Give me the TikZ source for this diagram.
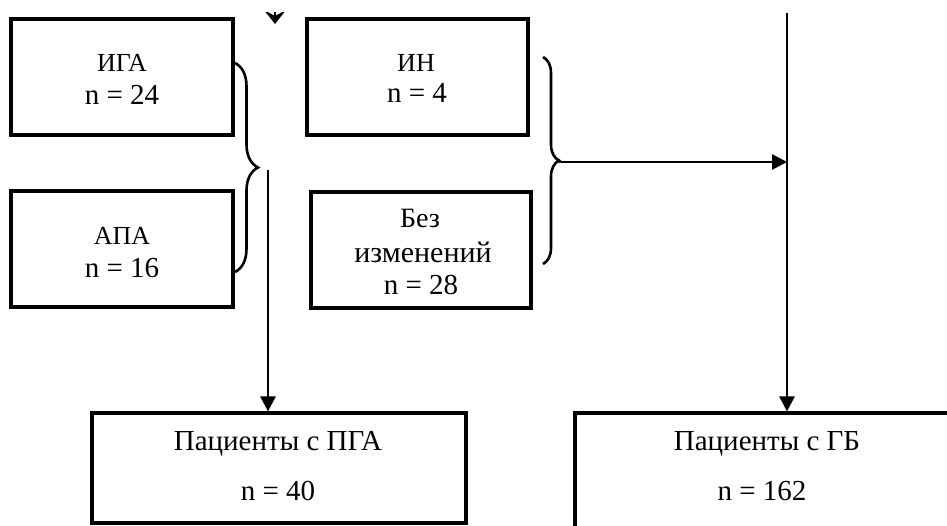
\documentclass[tikz,border=0pt]{standalone}
\usepackage{fontspec}
\setmainfont{Liberation Serif}
\usetikzlibrary{arrows.meta,decorations.pathreplacing}
\begin{document}
\begin{tikzpicture}[x=1pt,y=-1pt,
  box/.style={draw,line width=3.2pt,inner sep=0pt,minimum width=#1},
  lbl/.style={anchor=base,inner sep=0pt},
  conn/.style={line width=2.8pt,-{Triangle[length=15pt,width=15pt]}},
  curly/.style={line width=2.6pt,decorate,decoration={brace,amplitude=#1}},
]
\useasboundingbox (0,0) rectangle (947,526);
\clip (0,0) rectangle (947,526);

% boxes
\node[box=222pt,minimum height=116pt] (iga) at (122,77) {};
\node[box=222pt,minimum height=116pt] (apa) at (122,249) {};
\node[box=221pt,minimum height=116pt] (in) at (417.5,77) {};
\node[box=220pt,minimum height=116pt] (bez) at (421,250) {};
\node[box=374pt,minimum height=110pt] (pga) at (279,468) {};
\node[box=425pt,minimum height=147pt] (gb) at (787.5,486.5) {};

% texts
\node[lbl,font=\fontsize{26}{30}\selectfont] (igaT) at (122,72) {ИГА};
\node[lbl,font=\fontsize{29}{34}\selectfont] (igaN) at (122,105) {n = 24};
\node[lbl,font=\fontsize{26}{30}\selectfont] (apaT) at (122,245) {АПА};
\node[lbl,font=\fontsize{29}{34}\selectfont] (apaN) at (122,278) {n = 16};
\node[lbl,font=\fontsize{26}{30}\selectfont] (inT) at (416,72) {ИН};
\node[lbl,font=\fontsize{29}{34}\selectfont] (inN) at (417,103) {n = 4};
\begin{scope}
  \clip (300,209) rectangle (540,240);
  \node[lbl,font=\fontsize{28}{34}\selectfont] (bezT) at (420,228) {Без};
\end{scope}
\node[lbl,font=\fontsize{30}{34}\selectfont] (bezT2) at (423,263) {изменений};
\node[lbl,font=\fontsize{29}{34}\selectfont] (bezN) at (421,295) {n = 28};
\node[lbl,font=\fontsize{29}{34}\selectfont] (pgaT) at (278,450) {Пациенты с ПГА};
\node[lbl,font=\fontsize{29}{34}\selectfont] (pgaN) at (278,500) {n = 40};
\node[lbl,font=\fontsize{29}{34}\selectfont] (gbT) at (767,450) {Пациенты с ГБ};
\node[lbl,font=\fontsize{29}{34}\selectfont] (gbN) at (762,500) {n = 162};

% braces
\coordinate (lbTop) at (235,63);
\coordinate (lbBot) at (235,272);
\draw[curly=23pt] (lbTop) -- (lbBot);
\coordinate (rbTop) at (543,57);
\coordinate (rbBot) at (543,264);
\draw[curly=16pt] (rbTop) -- (rbBot);

% connectors
\coordinate (lStart) at (268,170);
\draw[conn] (lStart) -- (lStart |- pga.north);
\coordinate (rTop) at (787,13);
\draw[conn] (rTop) -- (rTop |- gb.north);
\coordinate (rbTip) at (559,162);
\coordinate (rJoin) at (787,162);
\draw[conn] (rbTip) -- (rJoin);

% cut-off arrow at the top
\begin{scope}
  \clip (0,13) rectangle (947,526);
  \coordinate (topA) at (275,-20);
  \coordinate (topB) at (275,24);
  \draw[line width=2.8pt,-{Stealth[length=14pt,width=22pt,inset=6pt]}] (topA) -- (topB);
\end{scope}
\end{tikzpicture}
\end{document}
